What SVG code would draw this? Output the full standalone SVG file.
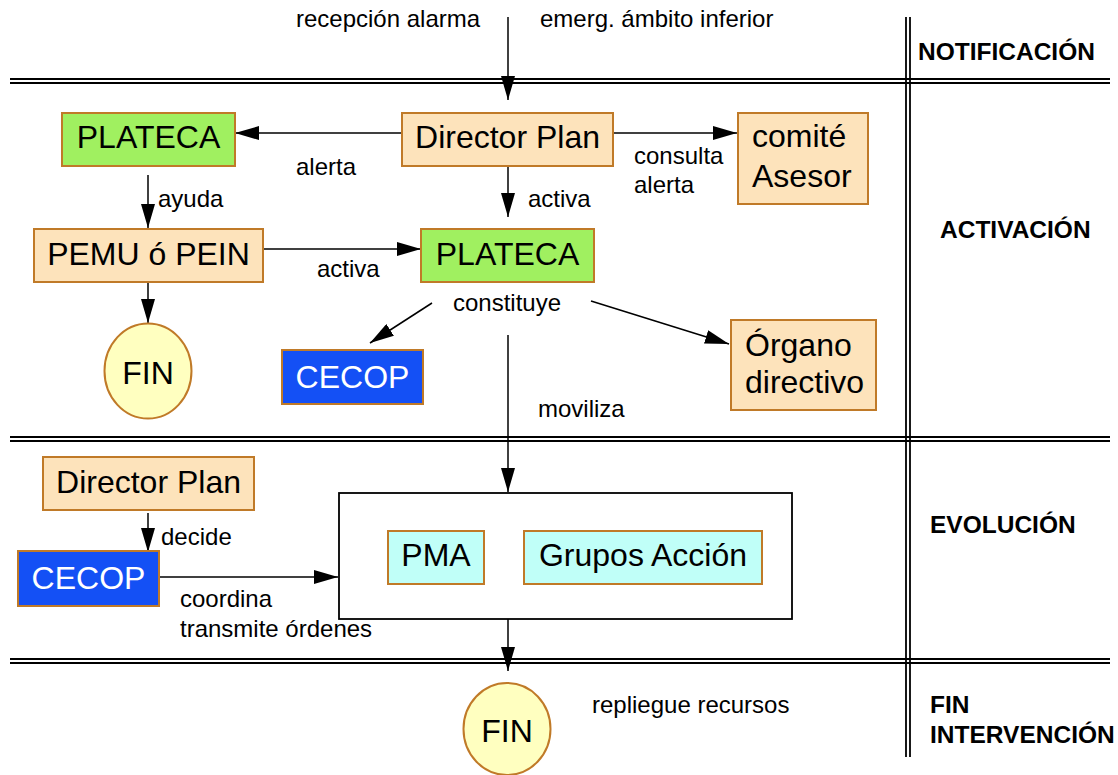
<svg xmlns="http://www.w3.org/2000/svg" width="1118" height="775" viewBox="0 0 1118 775">
<style>
text{font-family:"Liberation Sans",Arial,sans-serif;fill:#000}
.n{font-size:32px}
.l{font-size:24px}
.b{font-size:24.5px;font-weight:bold}
.w{fill:#fff}
.or{fill:#fde3bb;stroke:#c07a28;stroke-width:2}
.gr{fill:#a0f060;stroke:#c07a28;stroke-width:2}
.bl{fill:#1450f5;stroke:#c07a28;stroke-width:2}
.cy{fill:#c0fff8;stroke:#c07a28;stroke-width:2}
.ye{fill:#ffffc0;stroke:#c07a28;stroke-width:2}
.sep{stroke:#000;stroke-width:1.8;fill:none}
.c line{stroke:#000;stroke-width:1.5;marker-end:url(#ah)}
</style>
<defs>
<marker id="ah" markerUnits="userSpaceOnUse" markerWidth="24" markerHeight="14" refX="24" refY="7" orient="auto"><path d="M0,0 L24,7 L0,14 z" fill="#000"/></marker>
</defs>
<rect width="1118" height="775" fill="#fff"/>
<g id="grid">
<line class="sep" x1="10" y1="79" x2="1110" y2="79"/><line class="sep" x1="10" y1="83" x2="1110" y2="83"/>
<line class="sep" x1="10" y1="437" x2="1110" y2="437"/><line class="sep" x1="10" y1="441" x2="1110" y2="441"/>
<line class="sep" x1="10" y1="659" x2="1110" y2="659"/><line class="sep" x1="10" y1="663" x2="1110" y2="663"/>
<line class="sep" x1="906" y1="17" x2="906" y2="757"/><line class="sep" x1="910" y1="17" x2="910" y2="757"/>
</g>
<g id="phases">
<text class="b" x="918" y="60">NOTIFICACIÓN</text>
<text class="b" x="940" y="238">ACTIVACIÓN</text>
<text class="b" x="930" y="533">EVOLUCIÓN</text>
<text class="b" x="930" y="713">FIN</text>
<text class="b" x="930" y="743">INTERVENCIÓN</text>
</g>
<g id="group-box"><rect x="339" y="493" width="453" height="126" fill="#fff" stroke="#000" stroke-width="1.8"/></g>
<g class="c" id="connectors">
<line x1="508" y1="17" x2="508" y2="100"/>
<line x1="402" y1="133" x2="235" y2="133"/>
<line x1="613" y1="133" x2="737" y2="133"/>
<line x1="508" y1="166" x2="508" y2="217"/>
<line x1="148" y1="175" x2="148" y2="228"/>
<line x1="263" y1="249" x2="421" y2="249"/>
<line x1="148" y1="282" x2="148" y2="323"/>
<line x1="432" y1="303" x2="370" y2="343"/>
<line x1="591" y1="301" x2="729" y2="344"/>
<line x1="508" y1="335" x2="508" y2="492"/>
<line x1="148" y1="513" x2="148" y2="552"/>
<line x1="159" y1="577" x2="338" y2="577"/>
<line x1="508" y1="619" x2="508" y2="671"/>
</g>
<g id="labels">
<text class="l" x="296" y="27">recepción alarma</text>
<text class="l" x="540" y="27">emerg. ámbito inferior</text>
<text class="l" x="296" y="175">alerta</text>
<text class="l" x="634" y="164">consulta</text>
<text class="l" x="634" y="193">alerta</text>
<text class="l" x="528" y="207">activa</text>
<text class="l" x="158" y="207">ayuda</text>
<text class="l" x="317" y="277">activa</text>
<text class="l" x="507" y="311" text-anchor="middle">constituye</text>
<text class="l" x="538" y="417">moviliza</text>
<text class="l" x="161" y="545">decide</text>
<text class="l" x="180" y="607">coordina</text>
<text class="l" x="180" y="637">transmite órdenes</text>
<text class="l" x="592" y="713">repliegue recursos</text>
</g>
<g id="plateca1"><rect class="gr" x="62" y="113" width="173" height="53"/><text class="n" x="148.5" y="148" text-anchor="middle">PLATECA</text></g>
<g id="director1"><rect class="or" x="402" y="113" width="211" height="53"/><text class="n" x="507.5" y="148" text-anchor="middle">Director Plan</text></g>
<g id="comite"><rect class="or" x="738" y="113" width="130" height="91"/><text class="n" x="752" y="147">comité</text><text class="n" x="752" y="187">Asesor</text></g>
<g id="pemu"><rect class="or" x="34" y="229" width="229" height="53"/><text class="n" x="148.5" y="265" text-anchor="middle">PEMU ó PEIN</text></g>
<g id="plateca2"><rect class="gr" x="421" y="229" width="173" height="53"/><text class="n" x="507.5" y="265" text-anchor="middle">PLATECA</text></g>
<g id="fin1"><ellipse class="ye" cx="148" cy="371" rx="43.5" ry="47.5"/><text class="n" x="148" y="384" text-anchor="middle">FIN</text></g>
<g id="cecop1"><rect class="bl" x="282" y="350" width="141" height="54"/><text class="n w" x="352.5" y="388" text-anchor="middle">CECOP</text></g>
<g id="organo"><rect class="or" x="731" y="320" width="145" height="90"/><text class="n" x="745" y="356">Órgano</text><text class="n" x="745" y="393">directivo</text></g>
<g id="director2"><rect class="or" x="43" y="457" width="211" height="53"/><text class="n" x="148.5" y="493" text-anchor="middle">Director Plan</text></g>
<g id="cecop2"><rect class="bl" x="18" y="551" width="141" height="55"/><text class="n w" x="88.5" y="589" text-anchor="middle">CECOP</text></g>
<g id="pma"><rect class="cy" x="388" y="531" width="96" height="53"/><text class="n" x="436" y="566" text-anchor="middle">PMA</text></g>
<g id="grupos"><rect class="cy" x="524" y="531" width="238" height="53"/><text class="n" x="643" y="566" text-anchor="middle">Grupos Acción</text></g>
<g id="fin2"><ellipse class="ye" cx="507" cy="729" rx="43.5" ry="46"/><text class="n" x="507" y="742" text-anchor="middle">FIN</text></g>
</svg>
